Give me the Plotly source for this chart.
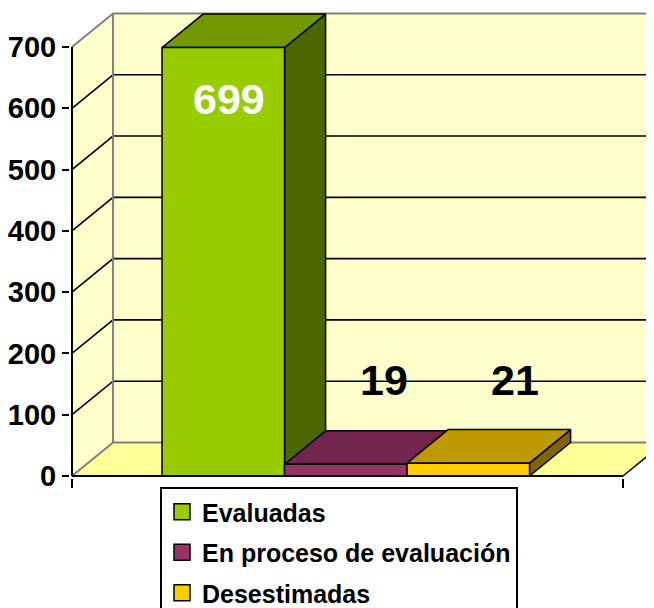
import plotly.graph_objects as go

# ---- data ----
categories = ["Evaluadas", "En proceso de evaluación", "Desestimadas"]
values = [699, 19, 21]
y_ticks = [0, 100, 200, 300, 400, 500, 600, 700]

# ---- styles ----
front_colors = ["#99CC00", "#993366", "#FFCC00"]
top_colors = ["#739900", "#73264D", "#BF9900"]
side_colors = ["#4C6600", "#4D1A33", "#806600"]
label_colors = ["white", "black", "black"]
label_shift = [(6, -51), (38, 84), (47, 83)]  # pixel offsets of value labels

FONT = "Liberation Sans, Arial, sans-serif"
WALL = "#FFFFCC"
FLOOR = "#FFFF99"
EDGE = "#808080"

OFF = 8               # page body margin offset
W, H = 654, 608
ML, MR, MT = 70 - OFF, 0, 11 - OFF
MB = H - (478 - OFF)
PX_X = 122.5          # pixels per category unit
PX_Y = 429 / 700      # pixels per value unit

X0, X1 = -1.235, 3.263      # floor front left / right
DX, DY = 0.335, 54.7        # 3D depth offset
YMAX = y_ticks[-1]

PW, PH = W - ML - MR, H - MT - MB
x_lo = X0 - 2 / PX_X
x_hi = x_lo + PW / PX_X
y_lo = -2 / PX_Y
y_hi = y_lo + PH / PX_Y
XR = x_hi + 0.5

fig = go.Figure()


def poly(xs, ys, fill, line_color="black", line_width=1.5):
    fig.add_trace(go.Scatter(
        x=list(xs) + [xs[0]], y=list(ys) + [ys[0]], mode="lines", fill="toself",
        fillcolor=fill, line=dict(color=line_color, width=line_width),
        hoverinfo="skip", showlegend=False))


def lines(xs, ys, color, width):
    fig.add_trace(go.Scatter(x=xs, y=ys, mode="lines",
                             line=dict(color=color, width=width),
                             hoverinfo="skip", showlegend=False))


# walls and floor
poly([X0, X0 + DX, X0 + DX, X0], [0, DY, YMAX + DY, YMAX], WALL, WALL, 0)
poly([X0 + DX, XR, XR, X0 + DX], [DY, DY, YMAX + DY, YMAX + DY], WALL, WALL, 0)
poly([X0, X0 + DX, X1 + DX, X1], [0, DY, DY, 0], FLOOR, FLOOR, 0)

# gridlines
gx, gy = [], []
for v in y_ticks[1:-1]:
    gx += [X0, X0 + DX, XR, None]
    gy += [v, v + DY, v + DY, None]
lines(gx, gy, "black", 1.6)

# wall edges
lines([X0, X0 + DX, XR, None, X0 + DX, X0 + DX, XR, None, X0, X0 + DX],
      [YMAX, YMAX + DY, YMAX + DY, None, YMAX + DY, DY, DY, None, 0, DY],
      EDGE, 2)
lines([X1, X1 + DX], [0, DY], "black", 1.5)

# 3D bars
for i, v in enumerate(values):
    l, r = i - 0.5, i + 0.5
    poly([r, r + DX, r + DX, r], [0, DY, v + DY, v], side_colors[i])
    poly([l, l + DX, r + DX, r], [v, v + DY, v + DY, v], top_colors[i])
    poly([l, l, r, r], [0, v, v, 0], front_colors[i])

# axis lines
lines([X0, X0], [0, YMAX], "black", 2)
lines([X0, X1], [0, 0], "black", 2)

# legend entries
for i, c in enumerate(categories):
    fig.add_trace(go.Scatter(
        x=[None], y=[None], mode="markers", name=c, legendgroup=c,
        marker=dict(symbol="square", size=20, color=front_colors[i],
                    line=dict(color="black", width=1.5))))

# value labels
for i, v in enumerate(values):
    fig.add_annotation(x=i, y=v, text=str(v), showarrow=False,
                       xshift=label_shift[i][0], yshift=label_shift[i][1],
                       font=dict(family=FONT, size=43, weight="bold",
                                 color=label_colors[i]))

LEG_LEFT, LEG_TOP = 160 - OFF, 487 - OFF
fig.update_layout(
    width=W, height=H,
    margin=dict(l=ML, r=MR, t=MT, b=MB, autoexpand=False),
    paper_bgcolor="white", plot_bgcolor="white",
    xaxis=dict(range=[x_lo, x_hi], showgrid=False, zeroline=False,
               showline=False, tickvals=[X0, X1], ticks="outside",
               ticklen=9, tickwidth=2, tickcolor="black",
               showticklabels=False, fixedrange=True, automargin=False),
    yaxis=dict(range=[y_lo, y_hi], showgrid=False, zeroline=False,
               showline=False, tickvals=y_ticks, ticks="outside",
               ticklen=7, tickwidth=2, tickcolor="black",
               tickfont=dict(family=FONT, size=29, weight="bold",
                             color="black"), fixedrange=True,
               automargin=False),
    legend=dict(x=(LEG_LEFT - ML) / PW, y=-(LEG_TOP - (H - MB)) / PH,
                xanchor="left", yanchor="top", bgcolor="white",
                bordercolor="black", borderwidth=2,
                font=dict(family=FONT, size=25, weight="bold", color="black"),
                traceorder="grouped", tracegroupgap=5),
    showlegend=True,
)

fig.write_html("out.html")
